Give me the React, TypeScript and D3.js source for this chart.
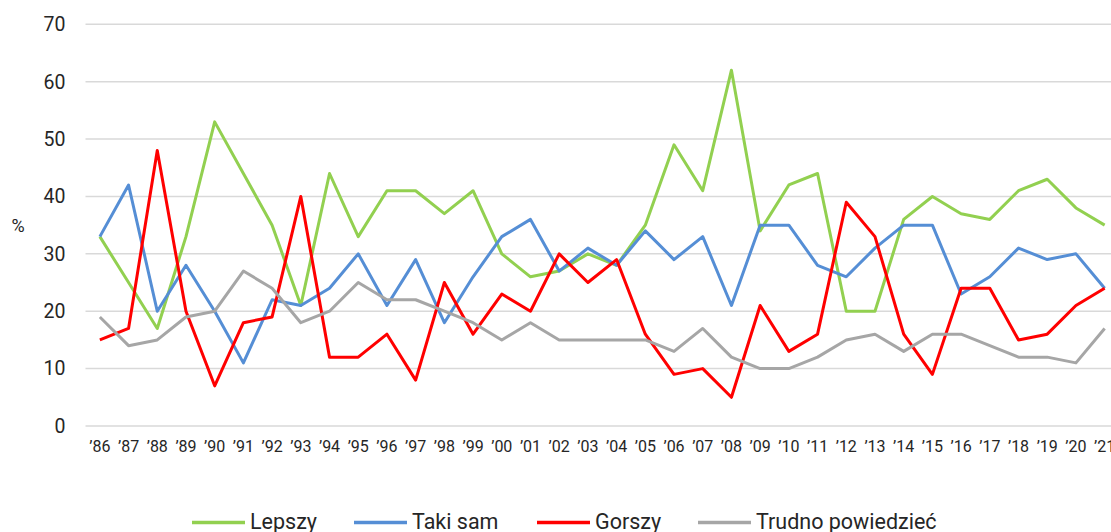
import { useEffect, useRef } from "react";
import * as d3 from "d3";

const years = [
  "86", "87", "88", "89", "90", "91", "92", "93", "94", "95", "96", "97",
  "98", "99", "00", "01", "02", "03", "04", "05", "06", "07", "08", "09",
  "10", "11", "12", "13", "14", "15", "16", "17", "18", "19", "20", "21",
];

const lepszy = [
  33, 25, 17, 33, 53, 44, 35, 21, 44, 33, 41, 41, 37, 41, 30, 26, 27, 30,
  28, 35, 49, 41, 62, 34, 42, 44, 20, 20, 36, 40, 37, 36, 41, 43, 38, 35,
];
const takiSam = [
  33, 42, 20, 28, 20, 11, 22, 21, 24, 30, 21, 29, 18, 26, 33, 36, 27, 31,
  28, 34, 29, 33, 21, 35, 35, 28, 26, 31, 35, 35, 23, 26, 31, 29, 30, 24,
];
const gorszy = [
  15, 17, 48, 20, 7, 18, 19, 40, 12, 12, 16, 8, 25, 16, 23, 20, 30, 25,
  29, 16, 9, 10, 5, 21, 13, 16, 39, 33, 16, 9, 24, 24, 15, 16, 21, 24,
];
const trudno = [
  19, 14, 15, 19, 20, 27, 24, 18, 20, 25, 22, 22, 20, 18, 15, 18, 15, 15,
  15, 15, 13, 17, 12, 10, 10, 12, 15, 16, 13, 16, 16, 14, 12, 12, 11, 17,
];

const yTicks = [0, 10, 20, 30, 40, 50, 60, 70];

const series = [
  { name: "Lepszy", values: lepszy, color: "#92d050" },
  { name: "Taki sam", values: takiSam, color: "#558ed5" },
  { name: "Gorszy", values: gorszy, color: "#ff0000" },
  { name: "Trudno powiedzieć", values: trudno, color: "#a6a6a6" },
];

const width = 1111;
const height = 532;
const font = "Roboto, 'Noto Sans', sans-serif";

export default function App() {
  const ref = useRef<SVGSVGElement>(null);

  useEffect(() => {
    if (!ref.current) return;
    const svg = d3.select(ref.current);
    svg.selectAll("*").remove();

    const x = d3.scaleBand().domain(years).range([85.5, 1119]).padding(0);
    const cx = (d: string) => (x(d) ?? 0) + x.bandwidth() / 2;
    const y = d3.scaleLinear().domain([0, 70]).range([426, 24.3]);

    // gridlines
    svg
      .append("g")
      .selectAll("line")
      .data(yTicks)
      .join("line")
      .attr("x1", 85.5)
      .attr("x2", width)
      .attr("y1", (d) => y(d))
      .attr("y2", (d) => y(d))
      .attr("stroke", "#d9d9d9")
      .attr("stroke-width", 1.5);

    // y tick labels
    svg
      .append("g")
      .selectAll("text")
      .data(yTicks)
      .join("text")
      .attr("x", 65.5)
      .attr("y", (d) => y(d))
      .attr("dy", "0.35em")
      .attr("text-anchor", "end")
      .style("font-family", font)
      .style("font-size", "19.5px")
      .style("fill", "#262626")
      .text((d) => d);

    // x tick labels (last one is cut by the edge, as in the source)
    svg
      .append("g")
      .selectAll("text")
      .data(years)
      .join("text")
      .attr("x", (d) => cx(d))
      .attr("y", 452)
      .attr("text-anchor", "middle")
      .style("font-family", font)
      .style("font-size", "16px")
      .style("fill", "#262626")
      .text((d) => "\u2019" + d);

    svg
      .append("text")
      .attr("x", 18)
      .attr("y", 226)
      .attr("dy", "0.35em")
      .attr("text-anchor", "middle")
      .style("font-family", font)
      .style("font-size", "18px")
      .style("fill", "#262626")
      .text("%");

    const line = d3
      .line<number>()
      .x((_, i) => cx(years[i]))
      .y((d) => y(d));

    series.forEach((s) => {
      svg
        .append("path")
        .datum(s.values)
        .attr("fill", "none")
        .attr("stroke", s.color)
        .attr("stroke-width", 3)
        .attr("stroke-linejoin", "round")
        .attr("d", line);
    });

    // legend
    const legendX = [192, 354, 537, 698];
    const legend = svg
      .append("g")
      .selectAll("g")
      .data(series)
      .join("g")
      .attr("transform", (_, i) => `translate(${legendX[i]},522.5)`);
    legend
      .append("line")
      .attr("x1", 0)
      .attr("x2", 53)
      .attr("stroke", (d) => d.color)
      .attr("stroke-width", 3.5);
    legend
      .append("text")
      .attr("x", 58)
      .attr("y", 6.5)
      .style("font-family", font)
      .style("font-size", "21.5px")
      .style("fill", "#262626")
      .text((d) => d.name);
  }, []);

  return (
    <svg
      ref={ref}
      width={width}
      height={height}
      style={{ position: "absolute", left: 0, top: 0, background: "#fff" }}
    />
  );
}
